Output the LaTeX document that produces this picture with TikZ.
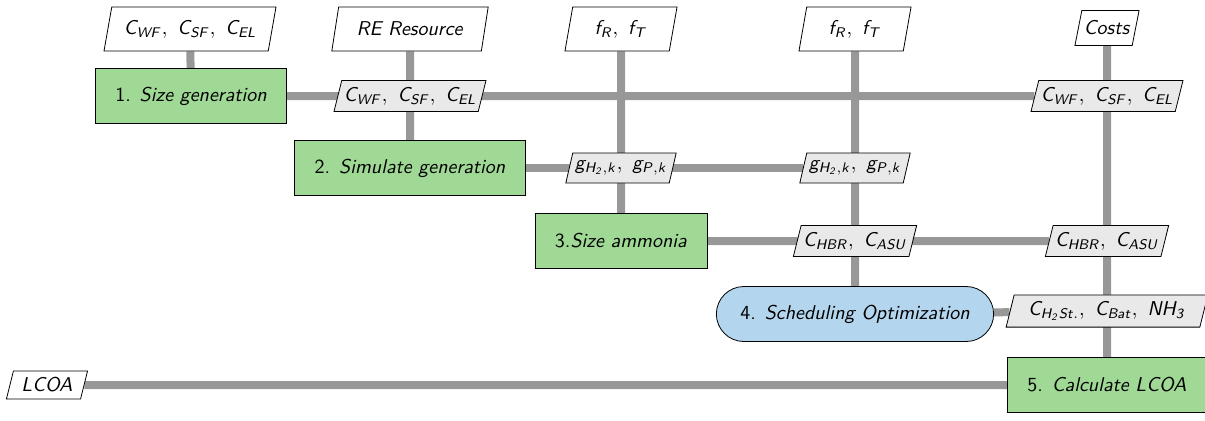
\documentclass[tikz,border=0pt]{standalone}
\usetikzlibrary{shapes.geometric,backgrounds}

\DeclareMathAlphabet{\mathsfsl}{OT1}{cmss}{m}{sl}

\definecolor{procgreen}{RGB}{160,217,149}
\definecolor{optblue}{RGB}{180,213,238}
\definecolor{datagray}{RGB}{233,233,233}
\definecolor{linkgray}{RGB}{152,152,152}

\tikzset{
  process/.style={draw,fill=procgreen,minimum height=27.5pt,inner xsep=10pt},
  optim/.style={draw,fill=optblue,rounded corners=13.75pt,minimum height=27.5pt,inner xsep=12pt},
  datum/.style={draw,fill=datagray,trapezium,trapezium left angle=76,trapezium right angle=104,trapezium stretches body,minimum height=15pt,inner xsep=1pt},
  source/.style={datum,fill=white,minimum height=22pt,inner xsep=6pt},
  link/.style={draw=linkgray,line width=4pt}
}

\begin{document}
\begin{tikzpicture}[x=0.5pt,y=0.5pt,yscale=-1,xscale=1,font=\sffamily]
        \useasboundingbox (0,0) rectangle (1205,420);

        \draw (190,29) node [source] (in1) {$\mathsfsl{C_{WF},\ C_{SF},\ C_{EL}}$};
        \draw (410,29) node [source,inner xsep=9pt] (in2) {\textit{RE Resource}};
        \draw (621,29) node [source,inner xsep=11pt] (in3) {$\mathsfsl{f_R,\ f_T}$};
        \draw (855,29) node [source,inner xsep=11pt] (in4) {$\mathsfsl{f_R,\ f_T}$};
        \draw (1107,28) node [source,minimum height=17.5pt,inner xsep=1pt] (in5) {\textit{Costs}};

        \draw (191,96) node [process] (sizegen) {1. \textit{Size generation}};
        \draw (410,96) node [datum] (cap12) {$\mathsfsl{C_{WF},\ C_{SF},\ C_{EL}}$};
        \draw (1107,96) node [datum] (cap15) {$\mathsfsl{C_{WF},\ C_{SF},\ C_{EL}}$};

        \draw (410,168) node [process] (simgen) {2. \textit{Simulate generation}};
        \draw (621,168) node [datum] (gen23) {$\mathsfsl{g_{H_2,k},\ g_{P,k}}$};
        \draw (855,168) node [datum] (gen24) {$\mathsfsl{g_{H_2,k},\ g_{P,k}}$};

        \draw (621,241) node [process] (sizeamm) {3.\textit{Size ammonia}};
        \draw (855,241) node [datum] (amm34) {$\mathsfsl{C_{HBR},\ C_{ASU}}$};
        \draw (1107,241) node [datum] (amm35) {$\mathsfsl{C_{HBR},\ C_{ASU}}$};

        \draw (855,314) node [optim] (sched) {4. \textit{Scheduling Optimization}};
        \draw (1107,311) node [datum,inner xsep=7pt] (sto45) {$\mathsfsl{C_{H_2St.},\ C_{Bat},\ NH_3}$};

        \draw (1107,385) node [process] (calc) {5. \textit{Calculate LCOA}};
        \draw (47,385) node [source,minimum height=11.5pt,inner xsep=4pt] (lcoa) {\textit{LCOA}};

        \begin{pgfonlayer}{background}
        \draw [link] (in1) -- (sizegen);
        \draw [link] (sizegen) -- (cap15);
        \draw [link] (in2) -- (simgen);
        \draw [link] (simgen) -- (gen24);
        \draw [link] (in3) -- (sizeamm);
        \draw [link] (sizeamm) -- (amm35);
        \draw [link] (in4) -- (sched);
        \draw [link] (in5) -- (calc);
        \draw [link] (sched) -- (sto45);
        \draw [link] (calc) -- (lcoa);
        \end{pgfonlayer}
    \end{tikzpicture}
\end{document}
